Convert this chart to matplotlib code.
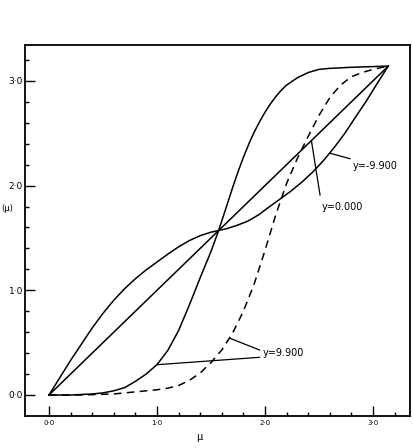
import matplotlib
matplotlib.use("Agg")
import matplotlib.pyplot as plt
from matplotlib.ticker import FixedLocator

# ---- data ----
# y = -9.900 (solid, above diagonal for mu < pi/2)
mu_neg = [0.0, 0.1, 0.2, 0.3, 0.4, 0.5, 0.6, 0.7, 0.8, 0.9, 1.0, 1.1, 1.2, 1.3, 1.4, 1.5, 1.571,
          1.64, 1.74, 1.84, 1.94, 2.04, 2.14, 2.24, 2.34, 2.44, 2.54, 2.64, 2.74, 2.84, 2.94, 3.04, 3.1416]
phi_neg = [0.0, 0.165, 0.33, 0.485, 0.64, 0.78, 0.905, 1.015, 1.11, 1.195, 1.27, 1.345, 1.415, 1.475, 1.522, 1.555, 1.571,
           1.587, 1.62, 1.66, 1.72, 1.797, 1.872, 1.947, 2.032, 2.127, 2.237, 2.362, 2.50, 2.657, 2.81, 2.977, 3.1416]

# y = 0.000 (straight diagonal)
mu_zero = [0.0, 3.1416]
phi_zero = [0.0, 3.1416]

# y = 9.900 (solid, steep S)
mu_pos = [0.0, 0.2, 0.4, 0.5, 0.6, 0.7, 0.8, 0.9, 1.0, 1.1, 1.2, 1.3, 1.4, 1.5, 1.571,
          1.65, 1.7, 1.75, 1.8, 1.86, 1.9, 1.95, 2.0, 2.05, 2.1, 2.15, 2.2, 2.3, 2.4, 2.5, 2.6, 2.8, 3.1416]
phi_pos = [0.0, 0.0, 0.01, 0.02, 0.04, 0.07, 0.13, 0.20, 0.29, 0.425, 0.615, 0.86, 1.12, 1.37, 1.571,
           1.82, 1.98, 2.13, 2.27, 2.42, 2.51, 2.61, 2.70, 2.78, 2.85, 2.91, 2.96, 3.03, 3.08, 3.11, 3.12, 3.13, 3.1416]

# y = 9.900 (dashed)
mu_dash = [0.0, 0.3, 0.6, 0.8, 1.0, 1.1, 1.2, 1.3, 1.4, 1.5, 1.6, 1.7, 1.8, 1.9, 2.0, 2.05, 2.1,
           2.2, 2.3, 2.4, 2.5, 2.6, 2.7, 2.8, 2.9, 3.0, 3.1416]
phi_dash = [0.0, 0.0, 0.01, 0.03, 0.05, 0.065, 0.09, 0.14, 0.21, 0.31, 0.43, 0.59, 0.80, 1.06, 1.38, 1.55, 1.72,
            2.02, 2.26, 2.47, 2.67, 2.84, 2.96, 3.04, 3.08, 3.11, 3.1416]

major_ticks = [0.0, 1.0, 2.0, 3.0]
minor_ticks = [0.2, 0.4, 0.6, 0.8, 1.2, 1.4, 1.6, 1.8, 2.2, 2.4, 2.6, 2.8, 3.2]
major_labels = ["0·0", "1·0", "2·0", "3·0"]

label_neg = "y=-9.900"
label_zero = "y=0.000"
label_pos = "y=9.900"

# ---- figure ----
fig = plt.figure(figsize=(4.14, 4.48), dpi=100)
ax = fig.add_axes([25/414, 1-416/448, 385/414, 371/448])
ax.set_xlim(-0.222, 3.343)
ax.set_ylim(-0.2006, 3.343)

lw = 1.1
ax.plot(mu_neg, phi_neg, color="black", lw=lw)
ax.plot(mu_zero, phi_zero, color="black", lw=lw)
ax.plot(mu_pos, phi_pos, color="black", lw=lw)
ax.plot(mu_dash, phi_dash, color="black", lw=lw, dashes=(5, 3.5))

# ticks
ax.xaxis.set_major_locator(FixedLocator(major_ticks))
ax.yaxis.set_major_locator(FixedLocator(major_ticks))
ax.xaxis.set_minor_locator(FixedLocator(minor_ticks))
ax.yaxis.set_minor_locator(FixedLocator(minor_ticks))
ax.set_xticklabels(major_labels, fontsize=5)
ax.set_yticklabels(major_labels, fontsize=6.5)
ax.tick_params(axis="both", which="major", direction="in", length=7.5, width=1.0,
               top=False, right=False)
ax.tick_params(axis="both", which="minor", direction="in", length=3, width=1.0,
               top=False, right=False)
ax.tick_params(axis="x", which="major", pad=3)
ax.tick_params(axis="y", which="major", pad=1.5)
for s in ax.spines.values():
    s.set_linewidth(1.3)

ax.set_xlabel("μ", fontsize=7)
ax.xaxis.set_label_coords(0.452, -0.043)
ax.set_ylabel("(μ)", fontsize=6, rotation=0)
ax.yaxis.set_label_coords(-0.045, 0.547)

# annotations
lp = dict(arrowstyle="-", color="black", lw=0.9, shrinkA=0, shrinkB=0)
ax.annotate(label_neg, xy=(2.60, 2.31), xytext=(2.815, 2.19), fontsize=7,
            va="center", ha="left", arrowprops=lp)
ax.text(2.53, 1.80, label_zero, fontsize=7, va="center", ha="left")
ax.plot([2.43, 2.51], [2.43, 1.91], color="black", lw=0.9)
ax.text(1.98, 0.40, label_pos, fontsize=7, va="center", ha="left")
ax.plot([1.68, 1.95], [0.54, 0.43], color="black", lw=0.9)
ax.plot([1.01, 1.95], [0.29, 0.36], color="black", lw=0.9)

fig.savefig("out.png", dpi=100)
